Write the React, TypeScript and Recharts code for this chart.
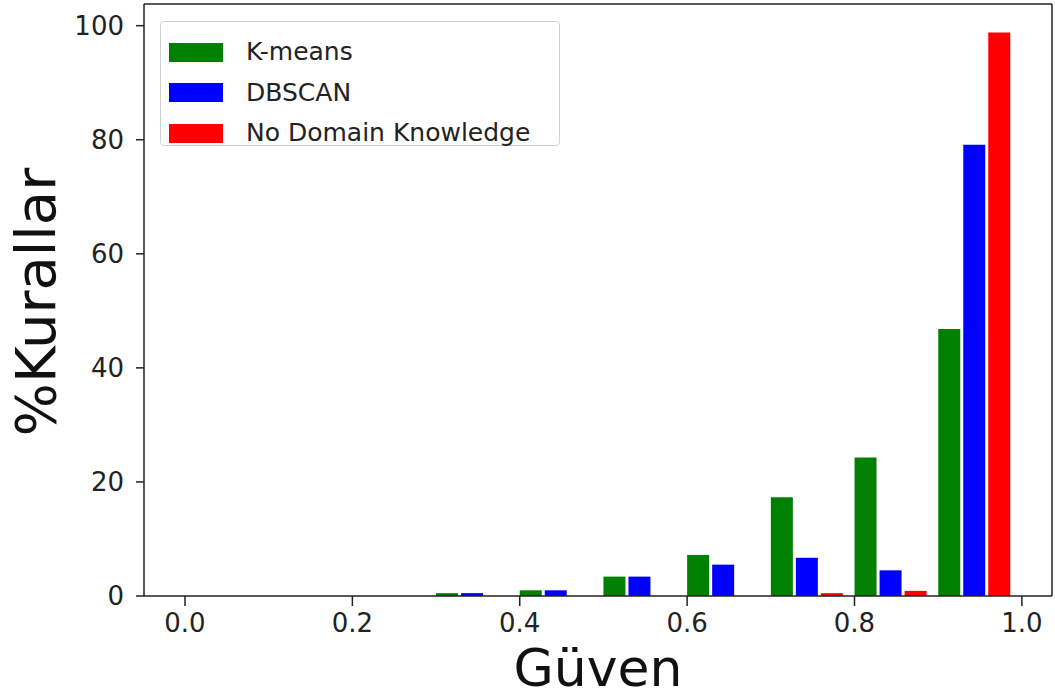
import { BarChart, Bar, XAxis, YAxis, Legend, Label } from "recharts";

const bins = ["0.0", "0.1", "0.2", "0.3", "0.4", "0.5", "0.6", "0.7", "0.8", "0.9"];
const kmeans = [0, 0, 0, 0.5, 1.0, 3.4, 7.2, 17.3, 24.3, 46.8];
const dbscan = [0, 0, 0, 0.5, 1.0, 3.4, 5.5, 6.7, 4.5, 79.1];
const noDomain = [0, 0, 0, 0, 0, 0, 0, 0.5, 0.9, 98.8];
const xTicks = [0, 0.2, 0.4, 0.6, 0.8, 1.0];
const yTicks = [0, 20, 40, 60, 80, 100];

const series = [
  { key: "kmeans", name: "K-means", color: "#008000" },
  { key: "dbscan", name: "DBSCAN", color: "#0000ff" },
  { key: "noDomain", name: "No Domain Knowledge", color: "#ff0000" },
];

const data = bins.map((bin, i) => ({
  bin,
  edge: parseFloat(bin),
  kmeans: kmeans[i],
  dbscan: dbscan[i],
  noDomain: noDomain[i],
}));

const FONT = "'DejaVu Sans', sans-serif";
const INK = "#222";

const LegendBox = () => (
  <div
    style={{
      width: 400,
      height: 125,
      border: "1px solid #d0d0d0",
      borderRadius: 4,
      background: "rgba(255,255,255,0.8)",
      boxSizing: "border-box",
      paddingTop: 10,
      fontFamily: FONT,
    }}
  >
    {series.map((s) => (
      <div key={s.key} style={{ display: "flex", alignItems: "center", height: 40.5 }}>
        <div style={{ width: 54, height: 19, background: s.color, marginLeft: 8 }} />
        <span style={{ marginLeft: 23, fontSize: 25, color: INK, lineHeight: "26px" }}>{s.name}</span>
      </div>
    ))}
  </div>
);

const App = () => {
  return (
    <div style={{ position: "absolute", left: 0, top: 0, width: 1055, height: 700, background: "#fff", fontFamily: FONT }}>
      <BarChart
        width={1055}
        height={700}
        data={data}
        margin={{ top: 3, right: 2, left: 0, bottom: 0 }}
        barCategoryGap={5.35}
        barGap={3}
      >
        <XAxis
          xAxisId="num"
          dataKey="edge"
          type="number"
          domain={[-0.049, 1.036]}
          allowDataOverflow
          ticks={xTicks}
          interval={0}
          tickFormatter={(v: number) => v.toFixed(1)}
          height={104}
          tickSize={10}
          tickMargin={8}
          stroke={INK}
          strokeWidth={1.5}
          tick={{ fontSize: 26, fill: INK, fontFamily: FONT }}
        >
          <Label
            content={() => (
              <text x={598} y={686} textAnchor="middle" fontSize={52} fill="#111" fontFamily={FONT}>
                Güven
              </text>
            )}
          />
        </XAxis>
        <XAxis xAxisId="cat" dataKey="bin" hide height={0} padding={{ left: 35.6, right: 35.4 }} />
        <XAxis xAxisId="top" orientation="top" height={1} tick={false} tickLine={false} stroke={INK} strokeWidth={1.5} />
        <YAxis
          domain={[0, 103.8]}
          allowDataOverflow
          ticks={yTicks}
          interval={0}
          width={144}
          tickSize={8}
          tickMargin={12}
          stroke={INK}
          strokeWidth={1.5}
          tick={{ fontSize: 26, fill: INK, fontFamily: FONT }}
        >
          <Label
            content={() => (
              <text
                x={55}
                y={302}
                textAnchor="middle"
                fontSize={56}
                fill="#111"
                fontFamily={FONT}
                transform="rotate(-90, 55, 302)"
              >
                %Kurallar
              </text>
            )}
          />
        </YAxis>
        <YAxis yAxisId="right" orientation="right" width={1} tick={false} tickLine={false} stroke={INK} strokeWidth={1.5} />
        <Legend
          layout="horizontal"
          verticalAlign="middle"
          align="center"
          wrapperStyle={{ left: 160, top: 21, width: 400, height: 125 }}
          content={() => <LegendBox />}
        />
        {series.map((s) => (
          <Bar key={s.key} xAxisId="cat" dataKey={s.key} name={s.name} fill={s.color} isAnimationActive={false} />
        ))}
      </BarChart>
    </div>
  );
};

export default App;
